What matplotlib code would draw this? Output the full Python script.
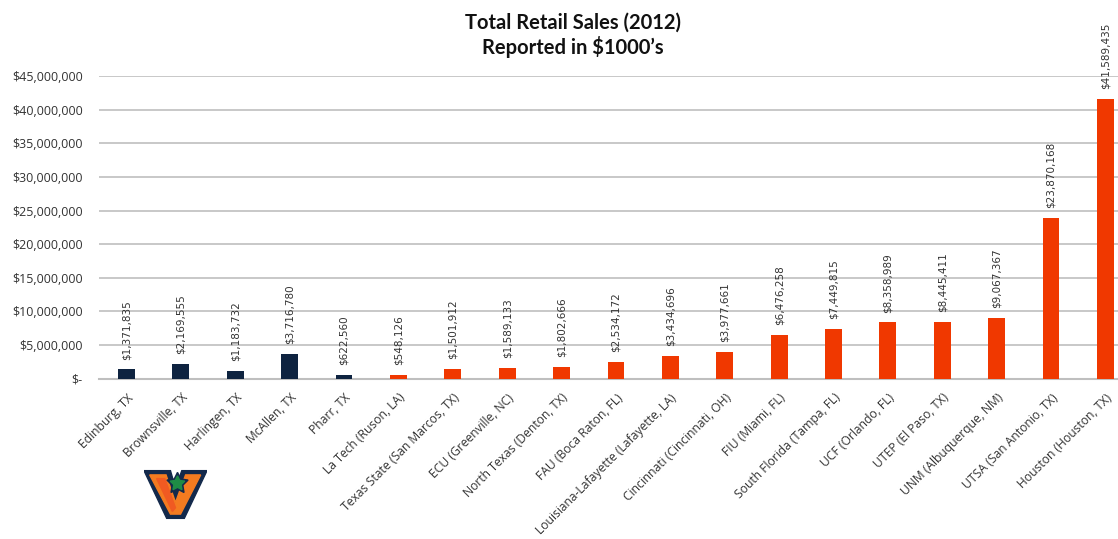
import matplotlib
matplotlib.use("Agg")
import matplotlib.pyplot as plt
from matplotlib.patches import Polygon
from matplotlib.ticker import FuncFormatter, MultipleLocator

categories = ["Edinburg, TX", "Brownsville, TX", "Harlingen, TX", "McAllen, TX", "Pharr, TX",
              "La Tech (Ruson, LA)", "Texas State (San Marcos, TX)", "ECU (Greenville, NC)",
              "North Texas (Denton, TX)", "FAU (Boca Raton, FL)", "Louisiana-Lafayette (Lafayette, LA)",
              "Cincinnati (Cincinnati, OH)", "FIU (Miami, FL)", "South Florida (Tampa, FL)",
              "UCF (Orlando, FL)", "UTEP (El Paso, TX)", "UNM (Albuquerque, NM)",
              "UTSA (San Antonio, TX)", "Houston (Houston, TX)"]
values = [1371835, 2169555, 1183732, 3716780, 622560, 548126, 1501912, 1589133, 1802666,
          2534172, 3434696, 3977661, 6476258, 7449815, 8358989, 8445411, 9067367,
          23870168, 41589435]
groups = ["local"] * 5 + ["peer"] * 14
group_colors = {"local": "#0E2340", "peer": "#F03800"}

fig = plt.figure(figsize=(11.18, 5.39), dpi=100)
ax = fig.add_axes([0.0888, 0.2974, 0.9243, 0.5616])

x = list(range(len(categories)))
cols = [group_colors[g] for g in groups]
bars = ax.bar(x, values, width=0.31, color=cols, zorder=3)

for xi, v in zip(x, values):
    ax.annotate(f"${v:,.0f}", (xi, v), xytext=(0, 7), textcoords="offset points",
                rotation=90, ha="center", va="bottom", fontsize=7.5,
                family="DejaVu Sans", color="#333333", clip_on=False)

ax.set_xlim(-0.5, len(categories) - 0.5)
ax.set_ylim(0, 45000000)
ax.yaxis.set_major_locator(MultipleLocator(5000000))
ax.yaxis.set_major_formatter(FuncFormatter(lambda v, p: "$-" if v == 0 else f"${v:,.0f}"))
ax.grid(axis="y", color="#BFBFBF", linewidth=1.2, zorder=0)
for s in ["top", "right", "left"]:
    ax.spines[s].set_visible(False)
ax.spines["bottom"].set_color("#BFBFBF")
ax.spines["bottom"].set_linewidth(1.5)
ax.tick_params(axis="both", length=0, labelsize=9, colors="#333333")
ax.tick_params(axis="y", pad=12)
ax.tick_params(axis="x", pad=9, labelsize=8.7)
ax.set_xticks(x)
ax.set_xticklabels(categories, rotation=45, ha="right", rotation_mode="anchor")
for lab in ax.get_xticklabels() + ax.get_yticklabels():
    lab.set_family("Open Sans")

fig.text(0.5125, 0.977, "Total Retail Sales (2012)\nReported in $1000\u2019s", ha="center", va="top",
         fontsize=14.5, fontweight="bold", family="Lato", color="#111111", linespacing=1.2)

# logo decoration
lax = fig.add_axes([144 / 1118, 1 - 521 / 539, 63 / 1118, 53 / 539])
lax.set_xlim(0, 1)
lax.set_ylim(0, 1)
lax.axis("off")
lax.add_patch(Polygon([(0.0, 0.95), (0.42, 0.95), (0.5, 0.62), (0.6, 0.95), (1.0, 0.95),
                       (0.64, 0.05), (0.36, 0.05)], closed=True, color="#13294B"))
lax.add_patch(Polygon([(0.09, 0.87), (0.35, 0.87), (0.5, 0.35), (0.66, 0.87), (0.9, 0.87),
                       (0.58, 0.13), (0.42, 0.13)], closed=True, color="#F47B20"))
lax.add_patch(Polygon([(0.2, 0.8), (0.33, 0.8), (0.5, 0.25), (0.45, 0.18)], closed=True, color="#F05A22"))
lax.plot([0.52], [0.72], marker=(5, 1, 0), markersize=16, color="#13294B")
lax.plot([0.52], [0.72], marker=(5, 1, 0), markersize=11, color="#1E8C45")

fig.savefig("out.png", dpi=100)
